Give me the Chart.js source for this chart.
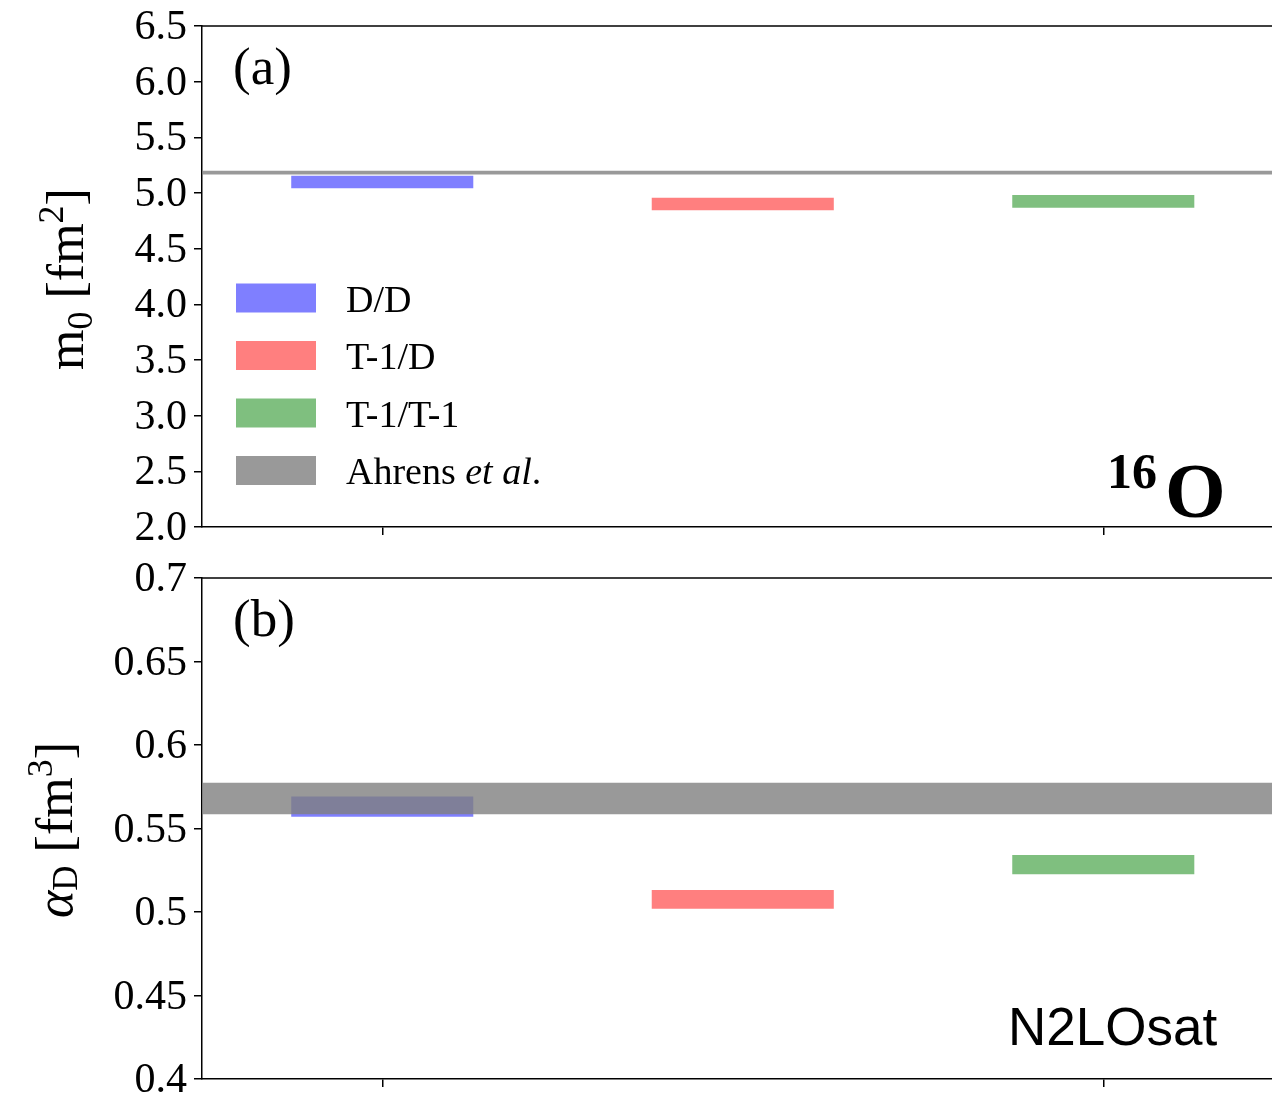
<!DOCTYPE html>
<html>
<head>
<meta charset="utf-8">
<title>16O sum rules: m0 and alpha_D</title>
<script src="https://cdn.jsdelivr.net/npm/chart.js@4.4.1/dist/chart.umd.min.js"></script>
<style>
  html, body { margin: 0; padding: 0; background: #ffffff; overflow: hidden; }
  #wrap { position: relative; width: 1272px; height: 1098px; }
  canvas { position: absolute; left: 0; }
</style>
</head>
<body>
<div id="wrap">
  <canvas id="panelA" width="1272" height="549" style="top:0px"></canvas>
  <canvas id="panelB" width="1272" height="549" style="top:549px"></canvas>
</div>
<script>
// ---- data -------------------------------------------------------------
const schemes = ['D/D', 'T-1/D', 'T-1/T-1'];
const schemePos = [0, 1, 2];
const schemeColors = ['rgba(0,0,255,0.5)', 'rgba(255,0,0,0.5)', 'rgba(0,128,0,0.5)'];

// non-energy-weighted sum rule m0 [fm^2], band per scheme
const m0Low  = [5.042, 4.844, 4.867];
const m0High = [5.155, 4.957, 4.982];

// electric dipole polarizability alpha_D [fm^3], band per scheme
const alphaLow  = [0.5571, 0.5020, 0.5226];
const alphaHigh = [0.5691, 0.5132, 0.5341];

// experimental band (Ahrens et al.)
const ahrensLabel = 'Ahrens et al.';
const ahrensM0    = [5.167, 5.199];
const ahrensAlpha = [0.5585, 0.5774];

// axis ticks
const m0Ticks = [2.0, 2.5, 3.0, 3.5, 4.0, 4.5, 5.0, 5.5, 6.0, 6.5];
const m0TickLabels = ['2.0', '2.5', '3.0', '3.5', '4.0', '4.5', '5.0', '5.5', '6.0', '6.5'];
const alphaTicks = [0.4, 0.45, 0.5, 0.55, 0.6, 0.65, 0.7];
const alphaTickLabels = ['0.4', '0.45', '0.5', '0.55', '0.6', '0.65', '0.7'];
const xTicks = [0, 2];
const xRange = [-0.5, 2.468];

// ---- styling helpers --------------------------------------------------
const SERIF = '"Liberation Serif", "Times New Roman", serif';
const SANS = '"Liberation Sans", Arial, sans-serif';
const AXIS_W = 202;

function drawParts(ctx, parts, x, y) {
  let cx = x;
  for (const p of parts) {
    ctx.font = p.font;
    ctx.fillText(p.text, cx, y + (p.dy || 0));
    cx += ctx.measureText(p.text).width;
  }
  return cx - x;
}
function partsWidth(ctx, parts) {
  let w = 0;
  for (const p of parts) { ctx.font = p.font; w += ctx.measureText(p.text).width; }
  return w;
}

function buildDatasets(low, high, ref) {
  const ds = schemes.map((name, i) => ({
    type: 'bar',
    label: name,
    data: [{ x: schemePos[i], y: [low[i], high[i]] }],
    backgroundColor: schemeColors[i],
    borderWidth: 0,
    grouped: false,
    barPercentage: 0.505,
    categoryPercentage: 1,
    order: 1
  }));
  ds.push({
    type: 'line', label: '',
    data: [{ x: xRange[0], y: ref[0] }, { x: xRange[1], y: ref[0] }],
    borderColor: 'rgba(0,0,0,0)', borderWidth: 0, pointRadius: 0,
    fill: false, order: 0
  });
  ds.push({
    type: 'line', label: ahrensLabel,
    data: [{ x: xRange[0], y: ref[1] }, { x: xRange[1], y: ref[1] }],
    borderColor: 'rgba(0,0,0,0)', borderWidth: 0, pointRadius: 0,
    backgroundColor: 'rgba(128,128,128,0.8)',
    fill: '-1', order: 0
  });
  return ds;
}

function buildScales(yMin, yMax, ticks, labels, xAxisH) {
  return {
    x: {
      type: 'linear', min: xRange[0], max: xRange[1], offset: false,
      grid: { display: true, drawOnChartArea: false, drawTicks: true, tickLength: 8,
              color: '#000', lineWidth: 1.5, offset: false },
      border: { display: true, color: '#000', width: 1.5 },
      ticks: { autoSkip: false, callback: () => '' },
      afterBuildTicks: s => { s.ticks = xTicks.map(v => ({ value: v })); },
      afterFit: s => { s.height = xAxisH; s.paddingLeft = 0; s.paddingRight = 0; }
    },
    y: {
      type: 'linear', min: yMin, max: yMax, beginAtZero: false,
      grid: { display: true, drawOnChartArea: false, drawTicks: true, tickLength: 8,
              color: '#000', lineWidth: 1.5 },
      border: { display: true, color: '#000', width: 1.5 },
      ticks: {
        autoSkip: false, padding: 7, color: '#000', labelOffset: 2,
        font: { family: SERIF, size: 42 },
        callback: (v, i) => labels[i]
      },
      afterBuildTicks: s => { s.ticks = ticks.map(v => ({ value: v })); },
      afterFit: s => { s.width = AXIS_W; s.paddingTop = 0; s.paddingBottom = 0; }
    }
  };
}

// top spine, panel tag, axis title and extra labels
function decorPlugin(cfg) {
  return {
    id: 'panelDecor',
    afterDraw(chart) {
      const ctx = chart.ctx;
      const a = chart.chartArea;
      ctx.save();
      ctx.strokeStyle = '#000';
      ctx.lineWidth = 1.5;
      ctx.beginPath();
      ctx.moveTo(a.left, a.top);
      ctx.lineTo(a.right, a.top);
      ctx.stroke();

      ctx.fillStyle = '#000';
      ctx.textBaseline = 'alphabetic';
      ctx.textAlign = 'left';

      // panel tag
      ctx.font = `53px ${SERIF}`;
      ctx.fillText(cfg.tag, a.left + 31, a.top + 58);

      // rotated y-axis title
      const w = partsWidth(ctx, cfg.yTitle);
      ctx.save();
      ctx.translate(cfg.yTitleX, cfg.yTitleY);
      ctx.rotate(-Math.PI / 2);
      drawParts(ctx, cfg.yTitle, -w / 2, 0);
      ctx.restore();

      if (cfg.extra) cfg.extra(ctx, a, chart);
      ctx.restore();
    }
  };
}

function drawLegend(ctx, a, chart) {
  const items = chart.data.datasets.filter(d => d.label);
  const rowH = 57.5;
  const f = `38px ${SERIF}`;
  items.forEach((d, i) => {
    const cy = 298 + i * rowH;
    ctx.fillStyle = d.backgroundColor;
    ctx.fillRect(236, cy - 14.5, 80, 29);
    ctx.fillStyle = '#000';
    const parts = d.label === ahrensLabel
      ? [{ text: 'Ahrens ', font: f },
         { text: 'et al', font: `italic 38px ${SERIF}` },
         { text: '.', font: f }]
      : [{ text: d.label, font: f }];
    drawParts(ctx, parts, 346, cy + 13.5);
  });
}

function makeCharts() {
  Chart.defaults.font.family = SERIF;
  Chart.defaults.color = '#000';

  new Chart(document.getElementById('panelA'), {
    type: 'bar',
    data: { datasets: buildDatasets(m0Low, m0High, ahrensM0) },
    options: {
      responsive: false, animation: false, devicePixelRatio: 1,
      layout: { padding: { top: 26, bottom: 0, left: 0, right: 0 } },
      plugins: { legend: { display: false }, tooltip: { enabled: false } },
      scales: buildScales(2.0, 6.5, m0Ticks, m0TickLabels, 22)
    },
    plugins: [decorPlugin({
      tag: '(a)',
      yTitleX: 83, yTitleY: 279,
      yTitle: [
        { text: 'm', font: `52px ${SERIF}` },
        { text: '0', font: `36px ${SERIF}`, dy: 9 },
        { text: ' [fm', font: `52px ${SERIF}` },
        { text: '2', font: `36px ${SERIF}`, dy: -20 },
        { text: ']', font: `52px ${SERIF}` }
      ],
      extra: (ctx, a, chart) => {
        drawLegend(ctx, a, chart);
        ctx.fillStyle = '#000';
        ctx.font = `bold 50px ${SERIF}`;
        ctx.fillText('16', 1107, a.bottom - 39);
        ctx.font = `bold 78px ${SERIF}`;
        ctx.fillText('O', 1165, a.bottom - 10);
      }
    })]
  });

  new Chart(document.getElementById('panelB'), {
    type: 'bar',
    data: { datasets: buildDatasets(alphaLow, alphaHigh, ahrensAlpha) },
    options: {
      responsive: false, animation: false, devicePixelRatio: 1,
      layout: { padding: { top: 29, bottom: 0, left: 0, right: 0 } },
      plugins: { legend: { display: false }, tooltip: { enabled: false } },
      scales: buildScales(0.4, 0.7, alphaTicks, alphaTickLabels, 19)
    },
    plugins: [decorPlugin({
      tag: '(b)',
      yTitleX: 72, yTitleY: 281,
      yTitle: [
        { text: 'α', font: `italic 52px ${SERIF}` },
        { text: 'D', font: `35px ${SERIF}`, dy: 5 },
        { text: ' [fm', font: `52px ${SERIF}` },
        { text: '3', font: `36px ${SERIF}`, dy: -20 },
        { text: ']', font: `52px ${SERIF}` }
      ],
      extra: (ctx, a) => {
        ctx.fillStyle = '#000';
        ctx.font = `53px ${SANS}`;
        ctx.fillText('N2LOsat', 1008, a.bottom - 34);
      }
    })]
  });
}

const fontLoads = [
  `42px ${SERIF}`, `italic 42px ${SERIF}`, `bold 42px ${SERIF}`, `42px ${SANS}`
].map(f => document.fonts.load(f).catch(() => null));
Promise.all(fontLoads).then(makeCharts, makeCharts);
</script>
</body>
</html>
